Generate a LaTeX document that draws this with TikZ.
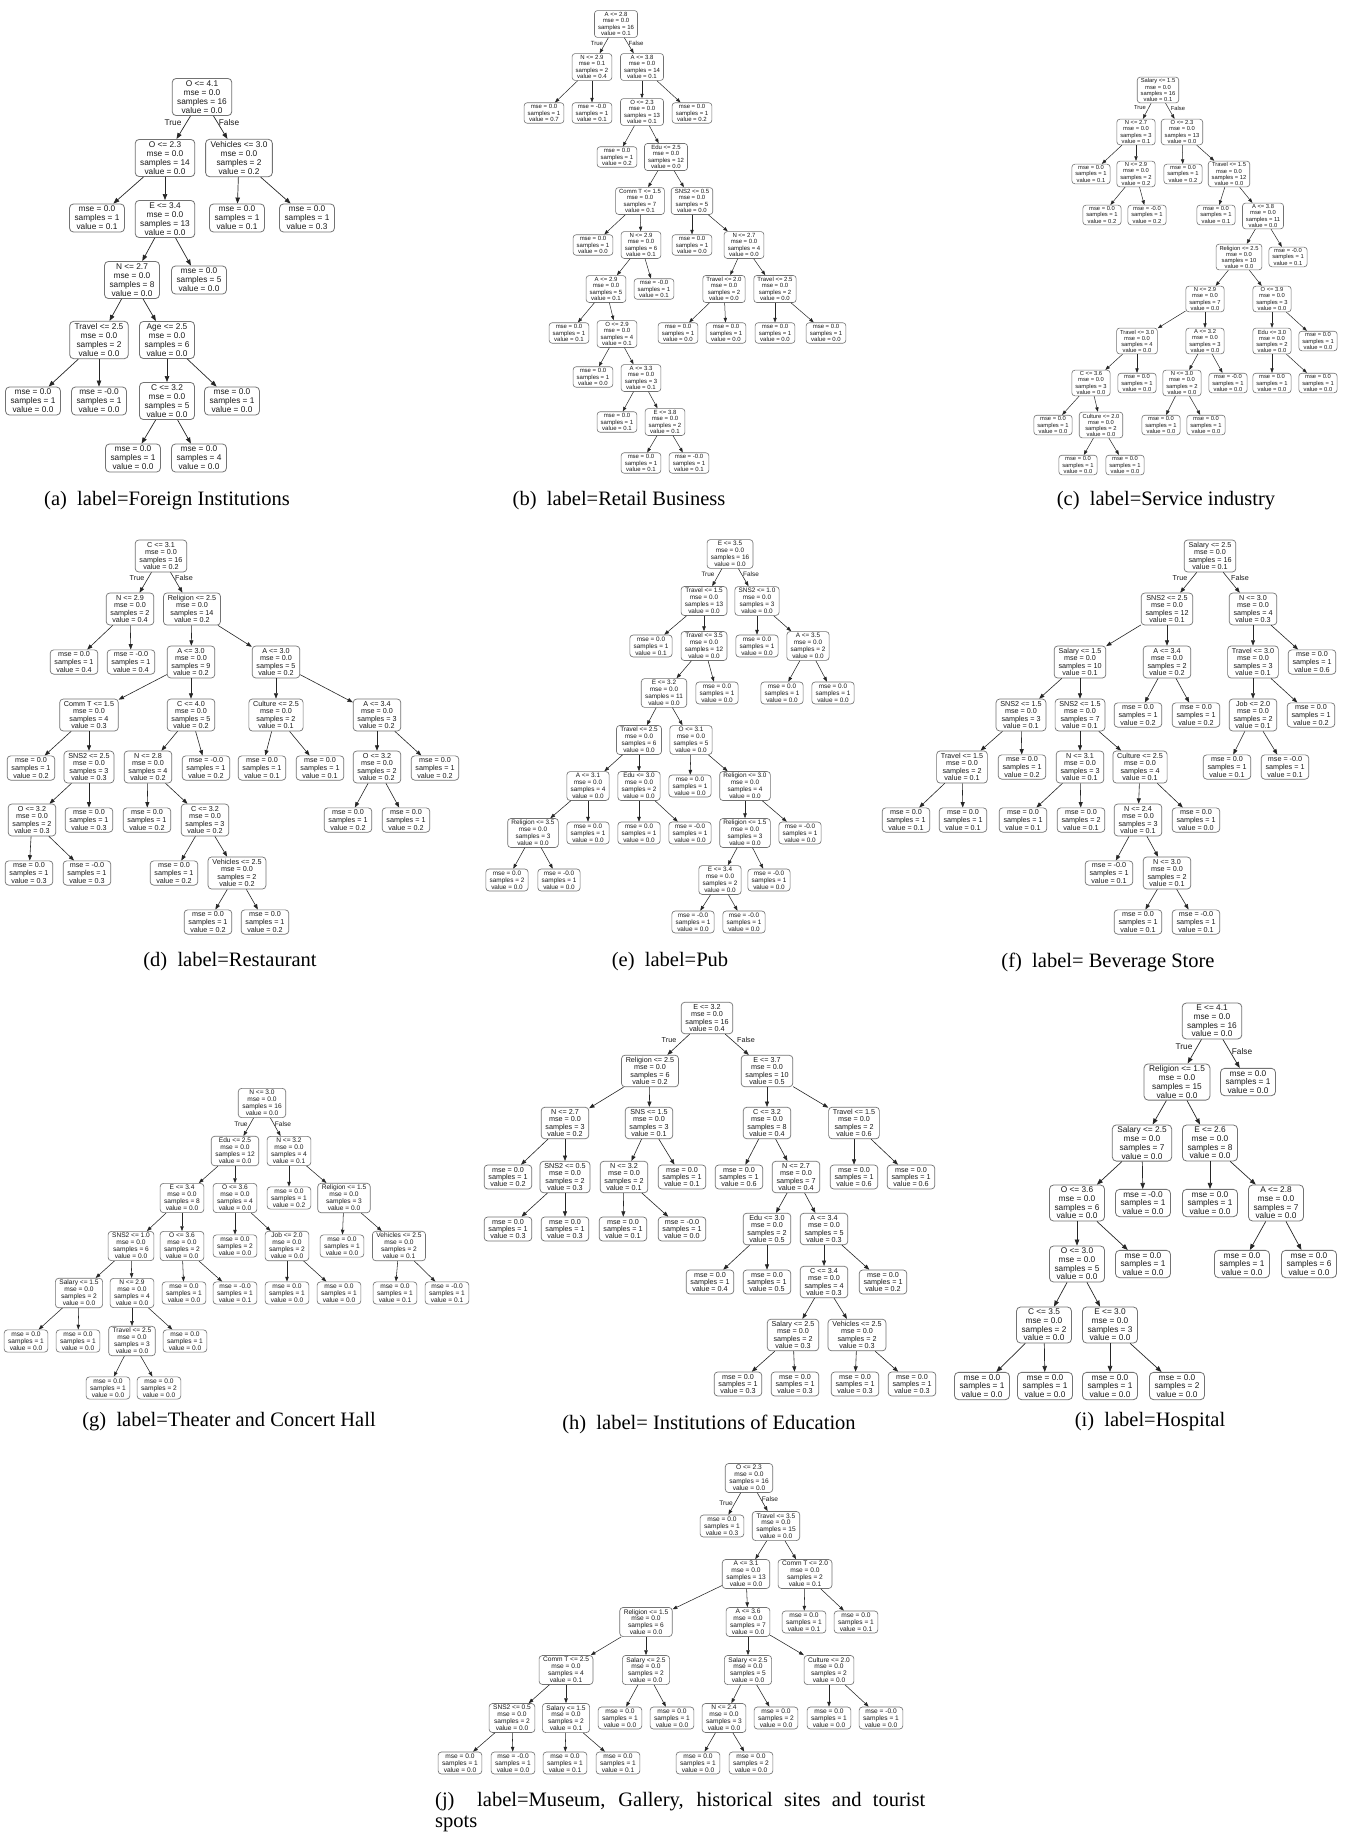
\documentclass[tikz,border=0pt]{standalone}
\usepackage{fontspec}
\setmainfont{Liberation Sans}
\newfontfamily\capfont{Liberation Serif}
\usetikzlibrary{arrows.meta}
\newcommand\tsp[4]{#1\\mse = #2\\samples = #3\\value = #4}
\newcommand\tlf[3]{mse = #1\\samples = #2\\value = #3}
\tikzset{
 tn/.style={draw=black!55, align=center, text=black!90},
 A/.style={tn, font=\fontsize{8.3}{9.1}\selectfont, inner xsep=5pt, inner ysep=2pt, rounded corners=4pt, line width=0.8pt},
 I/.style={A, font=\fontsize{8.3}{8.7}\selectfont},
 B/.style={tn, font=\fontsize{6.0}{6.35}\selectfont, inner xsep=3.6pt, inner ysep=1.8pt, rounded corners=3pt, line width=0.6pt},
 C/.style={tn, font=\fontsize{5.8}{6.05}\selectfont, inner xsep=3.4pt, inner ysep=1.7pt, rounded corners=3pt, line width=0.6pt},
 D/.style={tn, font=\fontsize{7.2}{7.6}\selectfont, inner xsep=4.3pt, inner ysep=2pt, rounded corners=3.5pt, line width=0.7pt},
 H/.style={D, font=\fontsize{7.2}{7.45}\selectfont},
 E/.style={tn, font=\fontsize{6.4}{6.9}\selectfont, inner xsep=3.8pt, inner ysep=1.8pt, rounded corners=3.2pt, line width=0.65pt},
 G/.style={tn, font=\fontsize{6.6}{7.0}\selectfont, inner xsep=4pt, inner ysep=1.8pt, rounded corners=3.3pt, line width=0.65pt},
 J/.style={G, font=\fontsize{6.6}{6.9}\selectfont},
 eA/.style={draw=black!85, line width=0.7pt, -{Triangle[length=6pt,width=4.5pt]}},
 eB/.style={draw=black!85, line width=0.5pt, -{Triangle[length=4.5pt,width=3.3pt]}},
 eD/.style={draw=black!85, line width=0.6pt, -{Triangle[length=5.3pt,width=4pt]}},
 eE/.style={draw=black!85, line width=0.55pt, -{Triangle[length=4.8pt,width=3.5pt]}},
 tf/.style={inner sep=0pt, text=black!90},
 captxt/.style={inner sep=0pt, font=\capfont\fontsize{20.5}{22}\selectfont},
}
\begin{document}
\begin{tikzpicture}[x=1pt,y=-1pt]
\fill[white] (0,0) rectangle (1346,1836);
\useasboundingbox (0,0) rectangle (1346,1836);

% ---------------- (a)
\node[A] (a0) at (202,97) {\tsp{O <= 4.1}{0.0}{16}{0.0}};
\node[A] (a1) at (165,158) {\tsp{O <= 2.3}{0.0}{14}{0.0}};
\node[A] (a2) at (239,158) {\tsp{Vehicles <= 3.0}{0.0}{2}{0.2}};
\node[A] (a3) at (97,218) {\tlf{0.0}{1}{0.1}};
\node[A] (a4) at (165,219) {\tsp{E <= 3.4}{0.0}{13}{0.0}};
\node[A] (a5) at (237,218) {\tlf{0.0}{1}{0.1}};
\node[A] (a6) at (307,218) {\tlf{0.0}{1}{0.3}};
\node[A] (a7) at (132,280) {\tsp{N <= 2.7}{0.0}{8}{0.0}};
\node[A] (a8) at (199,280) {\tlf{0.0}{5}{0.0}};
\node[A] (a9) at (99,340) {\tsp{Travel <= 2.5}{0.0}{2}{0.0}};
\node[A] (a10) at (167,340) {\tsp{Age <= 2.5}{0.0}{6}{0.0}};
\node[A] (a11) at (33,401) {\tlf{0.0}{1}{0.0}};
\node[A] (a12) at (99,401) {\tlf{-0.0}{1}{0.0}};
\node[A] (a13) at (167,401) {\tsp{C <= 3.2}{0.0}{5}{0.0}};
\node[A] (a14) at (232,401) {\tlf{0.0}{1}{0.0}};
\node[A] (a15) at (133,458) {\tlf{0.0}{1}{0.0}};
\node[A] (a16) at (199,458) {\tlf{0.0}{4}{0.0}};
\foreach \p/\c in {a0/a1,a0/a2,a1/a3,a1/a4,a2/a5,a2/a6,a4/a7,a4/a8,a7/a9,a7/a10,a9/a11,a9/a12,a10/a13,a10/a14,a13/a15,a13/a16} \draw[eA] (\p) -- (\c);
\node[tf, font=\fontsize{8.3}{9}\selectfont] (aT) at (173,123) {True};
\node[tf, font=\fontsize{8.3}{9}\selectfont] (aF) at (229,123) {False};
\node[captxt] (capa) at (167,501) {(a)\ \ label=Foreign Institutions};

% ---------------- (b)
\node[B] (b0) at (616,24) {\tsp{A <= 2.8}{0.0}{16}{0.1}};
\node[B] (b1) at (592,67) {\tsp{N <= 2.9}{0.1}{2}{0.4}};
\node[B] (b2) at (642,67) {\tsp{A <= 3.8}{0.0}{14}{0.1}};
\node[B] (b3) at (544,113) {\tlf{0.0}{1}{0.7}};
\node[B] (b4) at (592,113) {\tlf{-0.0}{1}{0.1}};
\node[B] (b5) at (642,112) {\tsp{O <= 2.3}{0.0}{13}{0.1}};
\node[B] (b6) at (692,113) {\tlf{0.0}{1}{0.2}};
\node[B] (b7) at (617,157) {\tlf{0.0}{1}{0.2}};
\node[B] (b8) at (666,157) {\tsp{Edu <= 2.5}{0.0}{12}{0.0}};
\node[B] (b9) at (640,201) {\tsp{Comm T <= 1.5}{0.0}{7}{0.1}};
\node[B] (b10) at (692,201) {\tsp{SNS2 <= 0.5}{0.0}{5}{0.0}};
\node[B] (b11) at (593,245) {\tlf{0.0}{1}{0.0}};
\node[B] (b12) at (641,245) {\tsp{N <= 2.9}{0.0}{6}{0.1}};
\node[B] (b13) at (692,245) {\tlf{0.0}{1}{0.0}};
\node[B] (b14) at (744,245) {\tsp{N <= 2.7}{0.0}{4}{0.0}};
\node[B] (b15) at (606,289) {\tsp{A <= 2.9}{0.0}{5}{0.1}};
\node[B] (b16) at (654,289) {\tlf{-0.0}{1}{0.1}};
\node[B] (b17) at (724,289) {\tsp{Travel <= 2.0}{0.0}{2}{0.0}};
\node[B] (b18) at (775,289) {\tsp{Travel <= 2.5}{0.0}{2}{0.0}};
\node[B] (b19) at (569,333) {\tlf{0.0}{1}{0.1}};
\node[B] (b20) at (617,334) {\tsp{O <= 2.9}{0.0}{4}{0.1}};
\node[B] (b21) at (678,333) {\tlf{0.0}{1}{0.0}};
\node[B] (b22) at (726,333) {\tlf{0.0}{1}{0.0}};
\node[B] (b23) at (775,333) {\tlf{0.0}{1}{0.0}};
\node[B] (b24) at (826,333) {\tlf{0.0}{1}{0.0}};
\node[B] (b25) at (593,377) {\tlf{0.0}{1}{0.0}};
\node[B] (b26) at (641,378) {\tsp{A <= 3.3}{0.0}{3}{0.1}};
\node[B] (b27) at (617,422) {\tlf{0.0}{1}{0.1}};
\node[B] (b28) at (665,422) {\tsp{E <= 3.8}{0.0}{2}{0.1}};
\node[B] (b29) at (641,463) {\tlf{0.0}{1}{0.1}};
\node[B] (b30) at (689,463) {\tlf{-0.0}{1}{0.1}};
\foreach \p/\c in {b0/b1,b0/b2,b1/b3,b1/b4,b2/b5,b2/b6,b5/b7,b5/b8,b8/b9,b8/b10,b9/b11,b9/b12,b10/b13,b10/b14,b12/b15,b12/b16,b14/b17,b14/b18,b15/b19,b15/b20,b17/b21,b17/b22,b18/b23,b18/b24,b20/b25,b20/b26,b26/b27,b26/b28,b28/b29,b28/b30} \draw[eB] (\p) -- (\c);
\node[tf, font=\fontsize{6}{6.5}\selectfont] (bT) at (597,43) {True};
\node[tf, font=\fontsize{6}{6.5}\selectfont] (bF) at (636,43) {False};
\node[captxt] (capb) at (619,501) {(b)\ \ label=Retail Business};

% ---------------- (c)
\node[C] (c0) at (1158,90) {\tsp{Salary <= 1.5}{0.0}{16}{0.1}};
\node[C] (c1) at (1136,132) {\tsp{N <= 2.7}{0.0}{3}{0.1}};
\node[C] (c2) at (1182,132) {\tsp{O <= 2.3}{0.0}{13}{0.0}};
\node[C] (c3) at (1091,174) {\tlf{0.0}{1}{0.1}};
\node[C] (c4) at (1136,174) {\tsp{N <= 2.9}{0.0}{2}{0.2}};
\node[C] (c5) at (1183,174) {\tlf{0.0}{1}{0.2}};
\node[C] (c6) at (1229,174) {\tsp{Travel <= 1.5}{0.0}{12}{0.0}};
\node[C] (c7) at (1102,215) {\tlf{0.0}{1}{0.2}};
\node[C] (c8) at (1147,215) {\tlf{-0.0}{1}{0.2}};
\node[C] (c9) at (1216,215) {\tlf{0.0}{1}{0.1}};
\node[C] (c10) at (1263,216) {\tsp{A <= 3.8}{0.0}{11}{0.0}};
\node[C] (c11) at (1239,257) {\tsp{Religion <= 2.5}{0.0}{10}{0.0}};
\node[C] (c12) at (1288,257) {\tlf{-0.0}{1}{0.1}};
\node[C] (c13) at (1205,299) {\tsp{N <= 2.9}{0.0}{7}{0.0}};
\node[C] (c14) at (1272,299) {\tsp{O <= 3.9}{0.0}{3}{0.0}};
\node[C] (c15) at (1137,341) {\tsp{Travel <= 3.0}{0.0}{4}{0.0}};
\node[C] (c16) at (1205,341) {\tsp{A <= 3.2}{0.0}{3}{0.0}};
\node[C] (c17) at (1272,341) {\tsp{Edu <= 3.0}{0.0}{2}{0.0}};
\node[C] (c18) at (1318,341) {\tlf{0.0}{1}{0.0}};
\node[C] (c19) at (1091,383) {\tsp{C <= 3.6}{0.0}{3}{0.0}};
\node[C] (c20) at (1137,383) {\tlf{0.0}{1}{0.0}};
\node[C] (c21) at (1182,383) {\tsp{N <= 3.0}{0.0}{2}{0.0}};
\node[C] (c22) at (1228,383) {\tlf{-0.0}{1}{0.0}};
\node[C] (c23) at (1272,383) {\tlf{0.0}{1}{0.0}};
\node[C] (c24) at (1318,383) {\tlf{0.0}{1}{0.0}};
\node[C] (c25) at (1053,425) {\tlf{0.0}{1}{0.0}};
\node[C] (c26) at (1101,425) {\tsp{Culture <= 2.0}{0.0}{2}{0.0}};
\node[C] (c27) at (1161,425) {\tlf{0.0}{1}{0.0}};
\node[C] (c28) at (1206,425) {\tlf{0.0}{1}{0.0}};
\node[C] (c29) at (1078,465) {\tlf{0.0}{1}{0.0}};
\node[C] (c30) at (1125,465) {\tlf{0.0}{1}{0.0}};
\foreach \p/\c in {c0/c1,c0/c2,c1/c3,c1/c4,c2/c5,c2/c6,c4/c7,c4/c8,c6/c9,c6/c10,c10/c11,c10/c12,c11/c13,c11/c14,c13/c15,c13/c16,c14/c17,c14/c18,c15/c19,c15/c20,c16/c21,c16/c22,c17/c23,c17/c24,c19/c25,c19/c26,c21/c27,c21/c28,c26/c29,c26/c30} \draw[eB] (\p) -- (\c);
\node[tf, font=\fontsize{5.8}{6.3}\selectfont] (cT) at (1140,108) {True};
\node[tf, font=\fontsize{5.8}{6.3}\selectfont] (cF) at (1178,108) {False};
\node[captxt] (capc) at (1166,501) {(c)\ \ label=Service industry};

% ---------------- (d)
\node[D] (d0) at (161,556) {\tsp{C <= 3.1}{0.0}{16}{0.2}};
\node[D] (d1) at (130,609) {\tsp{N <= 2.9}{0.0}{2}{0.4}};
\node[D] (d2) at (192,609) {\tsp{Religion <= 2.5}{0.0}{14}{0.2}};
\node[D] (d3) at (74,662) {\tlf{0.0}{1}{0.4}};
\node[D] (d4) at (131,662) {\tlf{-0.0}{1}{0.4}};
\node[D] (d5) at (191,662) {\tsp{A <= 3.0}{0.0}{9}{0.2}};
\node[D] (d6) at (276,662) {\tsp{A <= 3.0}{0.0}{5}{0.2}};
\node[D] (d7) at (89,715) {\tsp{Comm T <= 1.5}{0.0}{4}{0.3}};
\node[D] (d8) at (191,715) {\tsp{C <= 4.0}{0.0}{5}{0.2}};
\node[D] (d9) at (276,715) {\tsp{Culture <= 2.5}{0.0}{2}{0.1}};
\node[D] (d10) at (377,715) {\tsp{A <= 3.4}{0.0}{3}{0.2}};
\node[D] (d11) at (31,768) {\tlf{0.0}{1}{0.2}};
\node[D] (d12) at (89,767) {\tsp{SNS2 <= 2.5}{0.0}{3}{0.3}};
\node[D] (d13) at (148,767) {\tsp{N <= 2.8}{0.0}{4}{0.2}};
\node[D] (d14) at (206,768) {\tlf{-0.0}{1}{0.2}};
\node[D] (d15) at (262,768) {\tlf{0.0}{1}{0.1}};
\node[D] (d16) at (320,768) {\tlf{0.0}{1}{0.1}};
\node[D] (d17) at (377,767) {\tsp{O <= 3.2}{0.0}{2}{0.2}};
\node[D] (d18) at (435,768) {\tlf{0.0}{1}{0.2}};
\node[D] (d19) at (32,820) {\tsp{O <= 3.2}{0.0}{2}{0.3}};
\node[D] (d20) at (89,820) {\tlf{0.0}{1}{0.3}};
\node[D] (d21) at (147,820) {\tlf{0.0}{1}{0.2}};
\node[D] (d22) at (205,820) {\tsp{C <= 3.2}{0.0}{3}{0.2}};
\node[D] (d23) at (348,820) {\tlf{0.0}{1}{0.2}};
\node[D] (d24) at (406,820) {\tlf{0.0}{1}{0.2}};
\node[D] (d25) at (29,873) {\tlf{0.0}{1}{0.3}};
\node[D] (d26) at (87,873) {\tlf{-0.0}{1}{0.3}};
\node[D] (d27) at (174,873) {\tlf{0.0}{1}{0.2}};
\node[D] (d28) at (237,873) {\tsp{Vehicles <= 2.5}{0.0}{2}{0.2}};
\node[D] (d29) at (208,922) {\tlf{0.0}{1}{0.2}};
\node[D] (d30) at (265,922) {\tlf{0.0}{1}{0.2}};
\foreach \p/\c in {d0/d1,d0/d2,d1/d3,d1/d4,d2/d5,d2/d6,d5/d7,d5/d8,d6/d9,d6/d10,d7/d11,d7/d12,d8/d13,d8/d14,d9/d15,d9/d16,d10/d17,d10/d18,d12/d19,d12/d20,d13/d21,d13/d22,d17/d23,d17/d24,d19/d25,d19/d26,d22/d27,d22/d28,d28/d29,d28/d30} \draw[eD] (\p) -- (\c);
\node[tf, font=\fontsize{7.2}{7.7}\selectfont] (dT) at (137,578) {True};
\node[tf, font=\fontsize{7.2}{7.7}\selectfont] (dF) at (184,578) {False};
\node[captxt] (capd) at (230,962) {(d)\ \ label=Restaurant};

% ---------------- (e)
\node[E] (e0) at (730,554) {\tsp{E <= 3.5}{0.0}{16}{0.0}};
\node[E] (e1) at (704,601) {\tsp{Travel <= 1.5}{0.0}{13}{0.0}};
\node[E] (e2) at (757,601) {\tsp{SNS2 <= 1.0}{0.0}{3}{0.0}};
\node[E] (e3) at (651,646) {\tlf{0.0}{1}{0.1}};
\node[E] (e4) at (704,646) {\tsp{Travel <= 3.5}{0.0}{12}{0.0}};
\node[E] (e5) at (757,646) {\tlf{0.0}{1}{0.0}};
\node[E] (e6) at (808,646) {\tsp{A <= 3.5}{0.0}{2}{0.0}};
\node[E] (e7) at (664,693) {\tsp{E <= 3.2}{0.0}{11}{0.0}};
\node[E] (e8) at (717,693) {\tlf{0.0}{1}{0.0}};
\node[E] (e9) at (782,693) {\tlf{0.0}{1}{0.0}};
\node[E] (e10) at (833,693) {\tlf{0.0}{1}{0.0}};
\node[E] (e11) at (639,740) {\tsp{Travel <= 2.5}{0.0}{6}{0.0}};
\node[E] (e12) at (691,740) {\tsp{O <= 3.1}{0.0}{5}{0.0}};
\node[E] (e13) at (588,786) {\tsp{A <= 3.1}{0.0}{4}{0.0}};
\node[E] (e14) at (639,786) {\tsp{Edu <= 3.0}{0.0}{2}{0.0}};
\node[E] (e15) at (690,786) {\tlf{0.0}{1}{0.0}};
\node[E] (e16) at (745,786) {\tsp{Religion <= 3.0}{0.0}{4}{0.0}};
\node[E] (e17) at (533,833) {\tsp{Religion <= 3.5}{0.0}{3}{0.0}};
\node[E] (e18) at (588,833) {\tlf{0.0}{1}{0.0}};
\node[E] (e19) at (639,833) {\tlf{0.0}{1}{0.0}};
\node[E] (e20) at (690,833) {\tlf{-0.0}{1}{0.0}};
\node[E] (e21) at (745,833) {\tsp{Religion <= 1.5}{0.0}{3}{0.0}};
\node[E] (e22) at (800,833) {\tlf{-0.0}{1}{0.0}};
\node[E] (e23) at (507,880) {\tlf{0.0}{2}{0.0}};
\node[E] (e24) at (559,880) {\tlf{-0.0}{1}{0.0}};
\node[E] (e25) at (720,880) {\tsp{E <= 3.4}{0.0}{2}{0.0}};
\node[E] (e26) at (769,880) {\tlf{-0.0}{1}{0.0}};
\node[E] (e27) at (693,922) {\tlf{-0.0}{1}{0.0}};
\node[E] (e28) at (744,922) {\tlf{-0.0}{1}{0.0}};
\foreach \p/\c in {e0/e1,e0/e2,e1/e3,e1/e4,e2/e5,e2/e6,e4/e7,e4/e8,e6/e9,e6/e10,e7/e11,e7/e12,e11/e13,e11/e14,e12/e15,e12/e16,e13/e17,e13/e18,e14/e19,e14/e20,e16/e21,e16/e22,e17/e23,e17/e24,e21/e25,e21/e26,e25/e27,e25/e28} \draw[eE] (\p) -- (\c);
\node[tf, font=\fontsize{6.4}{7}\selectfont] (eT) at (708,574) {True};
\node[tf, font=\fontsize{6.4}{7}\selectfont] (eF) at (751,574) {False};
\node[captxt] (cape) at (670,962) {(e)\ \ label=Pub};

% ---------------- (f)
\node[D] (f0) at (1210,556) {\tsp{Salary <= 2.5}{0.0}{16}{0.1}};
\node[D] (f1) at (1167,609) {\tsp{SNS2 <= 2.5}{0.0}{12}{0.1}};
\node[D] (f2) at (1253,609) {\tsp{N <= 3.0}{0.0}{4}{0.3}};
\node[D] (f3) at (1080,662) {\tsp{Salary <= 1.5}{0.0}{10}{0.1}};
\node[D] (f4) at (1167,662) {\tsp{A <= 3.4}{0.0}{2}{0.2}};
\node[D] (f5) at (1253,662) {\tsp{Travel <= 3.0}{0.0}{3}{0.1}};
\node[D] (f6) at (1312,662) {\tlf{0.0}{1}{0.6}};
\node[D] (f7) at (1021,715) {\tsp{SNS2 <= 1.5}{0.0}{3}{0.1}};
\node[D] (f8) at (1080,715) {\tsp{SNS2 <= 1.5}{0.0}{7}{0.1}};
\node[D] (f9) at (1138,715) {\tlf{0.0}{1}{0.2}};
\node[D] (f10) at (1196,715) {\tlf{0.0}{1}{0.2}};
\node[D] (f11) at (1253,715) {\tsp{Job <= 2.0}{0.0}{2}{0.1}};
\node[D] (f12) at (1311,715) {\tlf{0.0}{1}{0.2}};
\node[D] (f13) at (962,767) {\tsp{Travel <= 1.5}{0.0}{2}{0.1}};
\node[D] (f14) at (1022,767) {\tlf{0.0}{1}{0.2}};
\node[D] (f15) at (1080,767) {\tsp{N <= 3.1}{0.0}{3}{0.1}};
\node[D] (f16) at (1140,767) {\tsp{Culture <= 2.5}{0.0}{4}{0.1}};
\node[D] (f17) at (1227,767) {\tlf{0.0}{1}{0.1}};
\node[D] (f18) at (1285,767) {\tlf{-0.0}{1}{0.1}};
\node[D] (f19) at (906,820) {\tlf{0.0}{1}{0.1}};
\node[D] (f20) at (963,820) {\tlf{0.0}{1}{0.1}};
\node[D] (f21) at (1023,820) {\tlf{0.0}{1}{0.1}};
\node[D] (f22) at (1081,820) {\tlf{0.0}{2}{0.1}};
\node[D] (f23) at (1138,820) {\tsp{N <= 2.4}{0.0}{3}{0.1}};
\node[D] (f24) at (1196,820) {\tlf{0.0}{1}{0.0}};
\node[D] (f25) at (1109,873) {\tlf{-0.0}{1}{0.1}};
\node[D] (f26) at (1167,873) {\tsp{N <= 3.0}{0.0}{2}{0.1}};
\node[D] (f27) at (1138,922) {\tlf{0.0}{1}{0.1}};
\node[D] (f28) at (1196,922) {\tlf{-0.0}{1}{0.1}};
\foreach \p/\c in {f0/f1,f0/f2,f1/f3,f1/f4,f2/f5,f2/f6,f3/f7,f3/f8,f4/f9,f4/f10,f5/f11,f5/f12,f7/f13,f7/f14,f8/f15,f8/f16,f11/f17,f11/f18,f13/f19,f13/f20,f15/f21,f15/f22,f16/f23,f16/f24,f23/f25,f23/f26,f26/f27,f26/f28} \draw[eD] (\p) -- (\c);
\node[tf, font=\fontsize{7.2}{7.7}\selectfont] (fT) at (1180,578) {True};
\node[tf, font=\fontsize{7.2}{7.7}\selectfont] (fF) at (1240,578) {False};
\node[captxt] (capf) at (1108,962) {(f)\ \ label= Beverage Store};

% ---------------- (g)
\node[G] (g0) at (262,1103) {\tsp{N <= 3.0}{0.0}{16}{0.0}};
\node[G] (g1) at (235,1151) {\tsp{Edu <= 2.5}{0.0}{12}{0.0}};
\node[G] (g2) at (289,1151) {\tsp{N <= 3.2}{0.0}{4}{0.1}};
\node[G] (g3) at (182,1198) {\tsp{E <= 3.4}{0.0}{8}{0.0}};
\node[G] (g4) at (235,1198) {\tsp{O <= 3.6}{0.0}{4}{0.0}};
\node[G] (g5) at (289,1198) {\tlf{0.0}{1}{0.2}};
\node[G] (g6) at (344,1198) {\tsp{Religion <= 1.5}{0.0}{3}{0.0}};
\node[G] (g7) at (131,1246) {\tsp{SNS2 <= 1.0}{0.0}{6}{0.0}};
\node[G] (g8) at (182,1246) {\tsp{O <= 3.6}{0.0}{2}{0.0}};
\node[G] (g9) at (235,1246) {\tlf{0.0}{2}{0.0}};
\node[G] (g10) at (287,1246) {\tsp{Job <= 2.0}{0.0}{2}{0.0}};
\node[G] (g11) at (342,1246) {\tlf{0.0}{1}{0.0}};
\node[G] (g12) at (399,1246) {\tsp{Vehicles <= 2.5}{0.0}{2}{0.1}};
\node[G] (g13) at (79,1293) {\tsp{Salary <= 1.5}{0.0}{2}{0.0}};
\node[G] (g14) at (132,1293) {\tsp{N <= 2.9}{0.0}{4}{0.0}};
\node[G] (g15) at (184,1293) {\tlf{0.0}{1}{0.0}};
\node[G] (g16) at (235,1293) {\tlf{-0.0}{1}{0.1}};
\node[G] (g17) at (287,1293) {\tlf{0.0}{1}{0.0}};
\node[G] (g18) at (339,1293) {\tlf{0.0}{1}{0.0}};
\node[G] (g19) at (395,1293) {\tlf{0.0}{1}{0.1}};
\node[G] (g20) at (447,1293) {\tlf{-0.0}{1}{0.1}};
\node[G] (g21) at (26,1341) {\tlf{0.0}{1}{0.0}};
\node[G] (g22) at (78,1341) {\tlf{0.0}{1}{0.0}};
\node[G] (g23) at (132,1341) {\tsp{Travel <= 2.5}{0.0}{3}{0.0}};
\node[G] (g24) at (185,1341) {\tlf{0.0}{1}{0.0}};
\node[G] (g25) at (108,1388) {\tlf{0.0}{1}{0.0}};
\node[G] (g26) at (159,1388) {\tlf{0.0}{2}{0.0}};
\foreach \p/\c in {g0/g1,g0/g2,g1/g3,g1/g4,g2/g5,g2/g6,g3/g7,g3/g8,g4/g9,g4/g10,g6/g11,g6/g12,g7/g13,g7/g14,g8/g15,g8/g16,g10/g17,g10/g18,g12/g19,g12/g20,g13/g21,g13/g22,g14/g23,g14/g24,g23/g25,g23/g26} \draw[eE] (\p) -- (\c);
\node[tf, font=\fontsize{6.6}{7}\selectfont] (gT) at (241,1124) {True};
\node[tf, font=\fontsize{6.6}{7}\selectfont] (gF) at (283,1124) {False};
\node[captxt] (capg) at (229,1422) {(g)\ \ label=Theater and Concert Hall};

% ---------------- (h)
\node[H] (h0) at (707,1018) {\tsp{E <= 3.2}{0.0}{16}{0.4}};
\node[H] (h1) at (650,1071) {\tsp{Religion <= 2.5}{0.0}{6}{0.2}};
\node[H] (h2) at (767,1071) {\tsp{E <= 3.7}{0.0}{10}{0.5}};
\node[H] (h3) at (565,1123) {\tsp{N <= 2.7}{0.0}{3}{0.2}};
\node[H] (h4) at (649,1123) {\tsp{SNS <= 1.5}{0.0}{3}{0.1}};
\node[H] (h5) at (767,1123) {\tsp{C <= 3.2}{0.0}{8}{0.4}};
\node[H] (h6) at (854,1123) {\tsp{Travel <= 1.5}{0.0}{2}{0.6}};
\node[H] (h7) at (508,1177) {\tlf{0.0}{1}{0.2}};
\node[H] (h8) at (565,1177) {\tsp{SNS2 <= 0.5}{0.0}{2}{0.3}};
\node[H] (h9) at (624,1177) {\tsp{N <= 3.2}{0.0}{2}{0.1}};
\node[H] (h10) at (682,1177) {\tlf{0.0}{1}{0.1}};
\node[H] (h11) at (739,1177) {\tlf{0.0}{1}{0.6}};
\node[H] (h12) at (796,1177) {\tsp{N <= 2.7}{0.0}{7}{0.4}};
\node[H] (h13) at (854,1177) {\tlf{0.0}{1}{0.6}};
\node[H] (h14) at (911,1177) {\tlf{0.0}{1}{0.6}};
\node[H] (h15) at (508,1229) {\tlf{0.0}{1}{0.3}};
\node[H] (h16) at (565,1229) {\tlf{0.0}{1}{0.3}};
\node[H] (h17) at (623,1229) {\tlf{0.0}{1}{0.1}};
\node[H] (h18) at (682,1229) {\tlf{-0.0}{1}{0.0}};
\node[H] (h19) at (767,1229) {\tsp{Edu <= 3.0}{0.0}{2}{0.5}};
\node[H] (h20) at (824,1229) {\tsp{A <= 3.4}{0.0}{5}{0.3}};
\node[H] (h21) at (710,1282) {\tlf{0.0}{1}{0.4}};
\node[H] (h22) at (767,1282) {\tlf{0.0}{1}{0.5}};
\node[H] (h23) at (824,1282) {\tsp{C <= 3.4}{0.0}{4}{0.3}};
\node[H] (h24) at (883,1282) {\tlf{0.0}{1}{0.2}};
\node[H] (h25) at (793,1335) {\tsp{Salary <= 2.5}{0.0}{2}{0.3}};
\node[H] (h26) at (857,1335) {\tsp{Vehicles <= 2.5}{0.0}{2}{0.3}};
\node[H] (h27) at (738,1384) {\tlf{0.0}{1}{0.3}};
\node[H] (h28) at (795,1384) {\tlf{0.0}{1}{0.3}};
\node[H] (h29) at (855,1384) {\tlf{0.0}{1}{0.3}};
\node[H] (h30) at (912,1384) {\tlf{0.0}{1}{0.3}};
\foreach \p/\c in {h0/h1,h0/h2,h1/h3,h1/h4,h2/h5,h2/h6,h3/h7,h3/h8,h4/h9,h4/h10,h5/h11,h5/h12,h6/h13,h6/h14,h8/h15,h8/h16,h9/h17,h9/h18,h12/h19,h12/h20,h19/h21,h19/h22,h20/h23,h20/h24,h23/h25,h23/h26,h25/h27,h25/h28,h26/h29,h26/h30} \draw[eD] (\p) -- (\c);
\node[tf, font=\fontsize{7.2}{7.7}\selectfont] (hT) at (669,1040) {True};
\node[tf, font=\fontsize{7.2}{7.7}\selectfont] (hF) at (746,1040) {False};
\node[captxt] (caph) at (709,1424) {(h)\ \ label= Institutions of Education};

% ---------------- (i)
\node[I] (i0) at (1212,1021) {\tsp{E <= 4.1}{0.0}{16}{0.0}};
\node[I] (i1) at (1177,1082) {\tsp{Religion <= 1.5}{0.0}{15}{0.0}};
\node[I] (i2) at (1248,1082) {\tlf{0.0}{1}{0.0}};
\node[I] (i3) at (1142,1143) {\tsp{Salary <= 2.5}{0.0}{7}{0.0}};
\node[I] (i4) at (1210,1143) {\tsp{E <= 2.6}{0.0}{8}{0.0}};
\node[I] (i5) at (1077,1203) {\tsp{O <= 3.6}{0.0}{6}{0.0}};
\node[I] (i6) at (1143,1203) {\tlf{-0.0}{1}{0.0}};
\node[I] (i7) at (1210,1203) {\tlf{0.0}{1}{0.0}};
\node[I] (i8) at (1276,1203) {\tsp{A <= 2.8}{0.0}{7}{0.0}};
\node[I] (i9) at (1077,1264) {\tsp{O <= 3.0}{0.0}{5}{0.0}};
\node[I] (i10) at (1143,1264) {\tlf{0.0}{1}{0.0}};
\node[I] (i11) at (1242,1264) {\tlf{0.0}{1}{0.0}};
\node[I] (i12) at (1309,1264) {\tlf{0.0}{6}{0.0}};
\node[I] (i13) at (1044,1325) {\tsp{C <= 3.5}{0.0}{2}{0.0}};
\node[I] (i14) at (1110,1325) {\tsp{E <= 3.0}{0.0}{3}{0.0}};
\node[I] (i15) at (982,1386) {\tlf{0.0}{1}{0.0}};
\node[I] (i16) at (1045,1386) {\tlf{0.0}{1}{0.0}};
\node[I] (i17) at (1110,1386) {\tlf{0.0}{1}{0.0}};
\node[I] (i18) at (1177,1386) {\tlf{0.0}{2}{0.0}};
\foreach \p/\c in {i0/i1,i0/i2,i1/i3,i1/i4,i3/i5,i3/i6,i4/i7,i4/i8,i5/i9,i5/i10,i8/i11,i8/i12,i9/i13,i9/i14,i13/i15,i13/i16,i14/i17,i14/i18} \draw[eA] (\p) -- (\c);
\node[tf, font=\fontsize{8.3}{9}\selectfont] (iT) at (1184,1047) {True};
\node[tf, font=\fontsize{8.3}{9}\selectfont] (iF) at (1242,1052) {False};
\node[captxt] (capi) at (1150,1422) {(i)\ \ label=Hospital};

% ---------------- (j)
\node[J] (j0) at (749,1478) {\tsp{O <= 2.3}{0.0}{16}{0.0}};
\node[J] (j1) at (722,1526) {\tlf{0.0}{1}{0.3}};
\node[J] (j2) at (776,1526) {\tsp{Travel <= 3.5}{0.0}{15}{0.0}};
\node[J] (j3) at (746,1574) {\tsp{A <= 3.1}{0.0}{13}{0.0}};
\node[J] (j4) at (805,1574) {\tsp{Comm T <= 2.0}{0.0}{2}{0.1}};
\node[J] (j5) at (646,1622) {\tsp{Religion <= 1.5}{0.0}{6}{0.0}};
\node[J] (j6) at (748,1622) {\tsp{A <= 3.6}{0.0}{7}{0.0}};
\node[J] (j7) at (804,1622) {\tlf{0.0}{1}{0.1}};
\node[J] (j8) at (856,1622) {\tlf{0.0}{1}{0.1}};
\node[J] (j9) at (566,1670) {\tsp{Comm T <= 2.5}{0.0}{4}{0.1}};
\node[J] (j10) at (646,1670) {\tsp{Salary <= 2.5}{0.0}{2}{0.0}};
\node[J] (j11) at (748,1670) {\tsp{Salary <= 2.5}{0.0}{5}{0.0}};
\node[J] (j12) at (829,1670) {\tsp{Culture <= 2.0}{0.0}{2}{0.0}};
\node[J] (j13) at (512,1718) {\tsp{SNS2 <= 0.5}{0.0}{2}{0.0}};
\node[J] (j14) at (566,1718) {\tsp{Salary <= 1.5}{0.0}{2}{0.1}};
\node[J] (j15) at (620,1718) {\tlf{0.0}{1}{0.0}};
\node[J] (j16) at (672,1718) {\tlf{0.0}{1}{0.0}};
\node[J] (j17) at (724,1718) {\tsp{N <= 2.4}{0.0}{3}{0.0}};
\node[J] (j18) at (776,1718) {\tlf{0.0}{2}{0.0}};
\node[J] (j19) at (829,1718) {\tlf{0.0}{1}{0.0}};
\node[J] (j20) at (881,1718) {\tlf{-0.0}{1}{0.0}};
\node[J] (j21) at (460,1763) {\tlf{0.0}{1}{0.0}};
\node[J] (j22) at (513,1763) {\tlf{-0.0}{1}{0.0}};
\node[J] (j23) at (565,1763) {\tlf{0.0}{1}{0.1}};
\node[J] (j24) at (618,1763) {\tlf{0.0}{1}{0.1}};
\node[J] (j25) at (698,1763) {\tlf{0.0}{1}{0.0}};
\node[J] (j26) at (751,1763) {\tlf{0.0}{2}{0.0}};
\foreach \p/\c in {j0/j1,j0/j2,j2/j3,j2/j4,j3/j5,j3/j6,j4/j7,j4/j8,j5/j9,j5/j10,j6/j11,j6/j12,j9/j13,j9/j14,j10/j15,j10/j16,j11/j17,j11/j18,j12/j19,j12/j20,j13/j21,j13/j22,j14/j23,j14/j24,j17/j25,j17/j26} \draw[eE] (\p) -- (\c);
\node[tf, font=\fontsize{6.6}{7}\selectfont] (jT) at (726,1503) {True};
\node[tf, font=\fontsize{6.6}{7}\selectfont] (jF) at (770,1499) {False};
\node[captxt, anchor=west] (capj1) at (435,1802) {\makebox[490pt][s]{(j)\ \ label=Museum, Gallery, historical sites and tourist}};
\node[captxt, anchor=west] (capj2) at (435,1824) {spots};
\end{tikzpicture}
\end{document}
